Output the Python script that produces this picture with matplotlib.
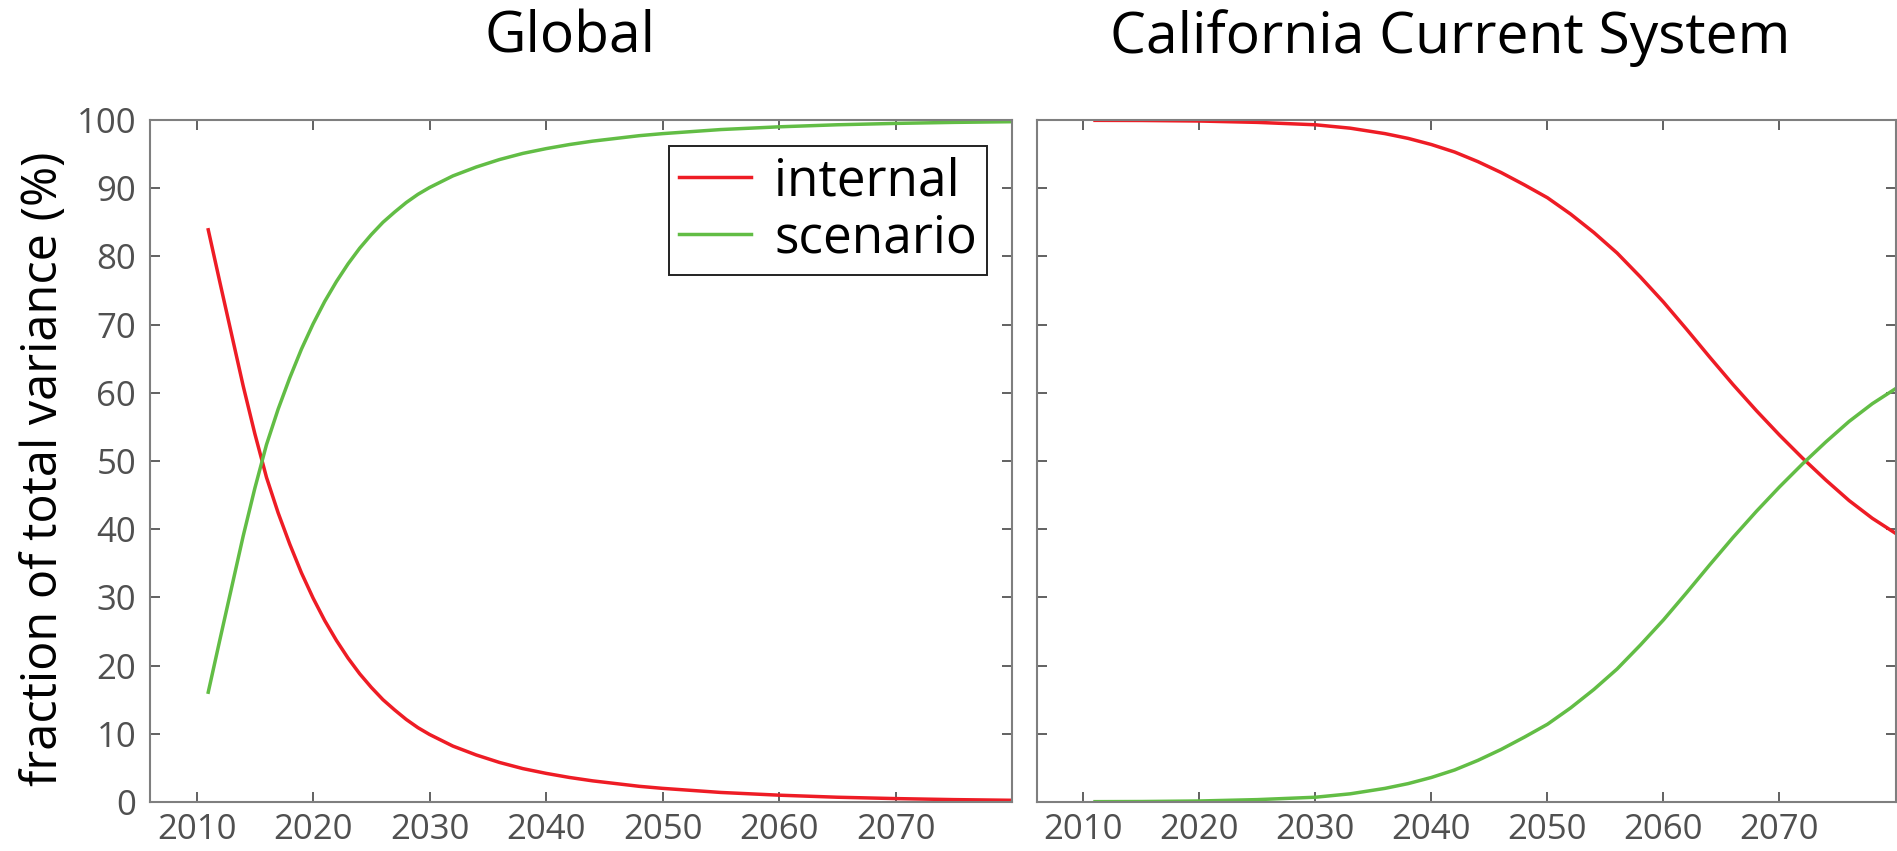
import matplotlib
matplotlib.use("Agg")
import matplotlib.pyplot as plt

# values (percent of total variance)
glob_years = [2011, 2012, 2013, 2014, 2015, 2016, 2017, 2018, 2019, 2020,
              2021, 2022, 2023, 2024, 2025, 2026, 2027, 2028, 2029, 2030,
              2032, 2034, 2036, 2038, 2040, 2042, 2044, 2046, 2048, 2050,
              2055, 2060, 2065, 2070, 2075, 2080]
glob_internal = [83.9, 76.2, 68.6, 61.0, 54.0, 47.6, 42.4, 37.8, 33.6, 29.9,
                 26.6, 23.7, 21.1, 18.8, 16.8, 15.0, 13.5, 12.1, 10.9, 9.9,
                 8.2, 6.9, 5.8, 4.9, 4.2, 3.6, 3.1, 2.7, 2.3, 2.0,
                 1.4, 1.0, 0.7, 0.5, 0.35, 0.25]
glob_scenario = [16.1, 23.8, 31.4, 39.0, 46.0, 52.4, 57.6, 62.2, 66.4, 70.1,
                 73.4, 76.3, 78.9, 81.2, 83.2, 85.0, 86.5, 87.9, 89.1, 90.1,
                 91.8, 93.1, 94.2, 95.1, 95.8, 96.4, 96.9, 97.3, 97.7, 98.0,
                 98.6, 99.0, 99.3, 99.5, 99.65, 99.75]

ccs_years = [2011, 2015, 2020, 2025, 2030, 2033, 2036, 2038, 2040, 2042,
             2044, 2046, 2048, 2050, 2052, 2054, 2056, 2058, 2060, 2062,
             2064, 2066, 2068, 2070, 2072, 2074, 2076, 2078, 2080]
ccs_internal = [99.95, 99.93, 99.85, 99.65, 99.3, 98.8, 98.0, 97.3, 96.4, 95.3,
                93.9, 92.3, 90.5, 88.6, 86.2, 83.5, 80.5, 77.0, 73.3, 69.3,
                65.2, 61.2, 57.4, 53.8, 50.4, 47.2, 44.2, 41.6, 39.4]
ccs_scenario = [0.05, 0.07, 0.15, 0.35, 0.7, 1.2, 2.0, 2.7, 3.6, 4.7,
                6.1, 7.7, 9.5, 11.4, 13.8, 16.5, 19.5, 23.0, 26.7, 30.7,
                34.8, 38.8, 42.6, 46.2, 49.6, 52.8, 55.8, 58.4, 60.6]

titles = ["Global", "California Current System"]
yticks = list(range(0, 101, 10))
xticks = list(range(2010, 2071, 10))

red = "#ee1c25"
green = "#62bd45"
spine_col = "#7f7f7f"
label_col = "#505050"

plt.rcParams["font.family"] = ["Open Sans", "DejaVu Sans"]

fig = plt.figure(figsize=(18.97, 8.51), dpi=100)
W, H = 1897.0, 851.0
ax1 = fig.add_axes([150 / W, 1 - 802 / H, (1012 - 150) / W, (802 - 120) / H])
ax2 = fig.add_axes([1037 / W, 1 - 802 / H, (1895.5 - 1037) / W, (802 - 120) / H])

ax1.plot(glob_years, glob_internal, color=red, lw=2.5, label="internal")
ax1.plot(glob_years, glob_scenario, color=green, lw=2.5, label="scenario")
ax2.plot(ccs_years, ccs_internal, color=red, lw=2.5)
ax2.plot(ccs_years, ccs_scenario, color=green, lw=2.5)

for ax in (ax1, ax2):
    ax.set_xlim(2006, 2080)
    ax.set_ylim(0, 100)
    ax.set_xticks(xticks)
    ax.set_yticks(yticks)
    for s in ax.spines.values():
        s.set_color(spine_col)
        s.set_linewidth(1.5)
    ax.tick_params(direction="in", length=7, width=1.3, color="#555555",
                   top=True, right=True, labelsize=25, labelcolor=label_col)
    ax.tick_params(axis="y", pad=10)
    ax.tick_params(axis="x", pad=8)

ax2.set_yticklabels([])

leg = ax1.legend(loc="upper right", bbox_to_anchor=(987 / W, 1 - 146 / H),
                 bbox_transform=fig.transFigure, borderaxespad=0,
                 fontsize=37, handlelength=1.4, handletextpad=0.45,
                 borderpad=0.2, labelspacing=0.12, fancybox=False, framealpha=1)
leg.get_frame().set_edgecolor("#222222")
leg.get_frame().set_linewidth(1.4)

fig.text(570 / W, 1 - 38 / H, titles[0], ha="center", va="center", fontsize=41)
fig.text(1450 / W, 1 - 38 / H, titles[1], ha="center", va="center", fontsize=41)
fig.text(44 / W, 1 - 469 / H, "fraction of total variance (%)", rotation=90,
         ha="center", va="center", fontsize=35)

fig.savefig("out.png", dpi=100)
